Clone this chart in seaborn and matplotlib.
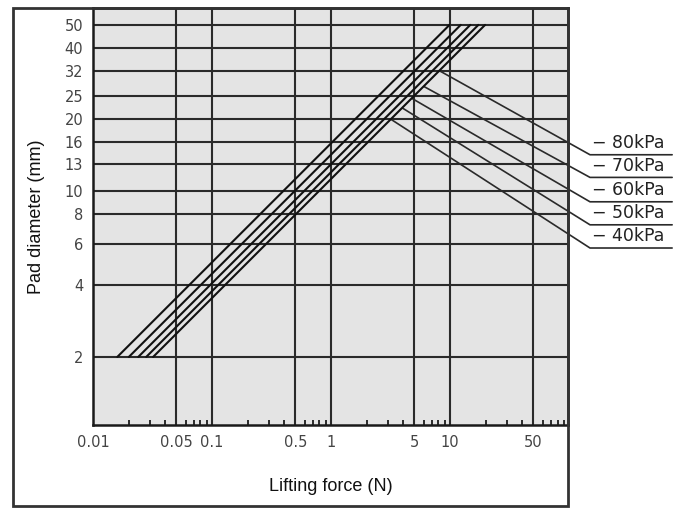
import numpy as np
import pandas as pd
import matplotlib
matplotlib.use("Agg")
import matplotlib.pyplot as plt
from matplotlib.patches import Rectangle
from matplotlib.ticker import FixedLocator, NullFormatter
import seaborn as sns

# ---- data ----
pressures = ["-80kPa", "-70kPa", "-60kPa", "-50kPa", "-40kPa"]
diam_ends = [2, 50]
force_at_d2 = [0.032, 0.028, 0.024, 0.020, 0.016]
force_at_d50 = [19.7, 17.3, 14.8, 12.3, 9.9]

leader_start_force = [8.2, 6.05, 4.8, 4.0, 3.2]
leader_start_diam = [32, 27.5, 24.5, 22.3, 20]
leader_end_diam = [14.2, 11.4, 9.0, 7.2, 5.75]
leader_end_force = 150
underline_end_force = 735

y_ticks = [2, 4, 6, 8, 10, 13, 16, 20, 25, 32, 40, 50]
x_ticks = [0.01, 0.05, 0.1, 0.5, 1, 5, 10, 50]
x_tick_labels = ["0.01", "0.05", "0.1", "0.5", "1", "5", "10", "50"]
x_minor = [0.02, 0.03, 0.04, 0.06, 0.07, 0.08, 0.09,
           0.2, 0.3, 0.4, 0.6, 0.7, 0.8, 0.9,
           2, 3, 4, 6, 7, 8, 9,
           20, 30, 40, 60, 70, 80, 90]

rows = []
for p, f0, f1 in zip(pressures, force_at_d2, force_at_d50):
    rows.append({"pressure": p, "force": f0, "diameter": diam_ends[0]})
    rows.append({"pressure": p, "force": f1, "diameter": diam_ends[1]})
df = pd.DataFrame(rows)

sns.set_style("white")
plt.rcParams["font.family"] = ["Liberation Sans", "DejaVu Sans"]

fig = plt.figure(figsize=(6.83, 5.08), dpi=100)
ax = fig.add_axes([93 / 683, 1 - 425 / 508, 475 / 683, 417 / 508])
ax.set_facecolor("#e4e4e4")

ax.set_xscale("log")
ax.set_yscale("log")
ax.set_xlim(0.01, 98)
ax.set_ylim(1.034, 58.9)

# grid
for yt in y_ticks:
    ax.axhline(yt, color="#2a2a2a", lw=1.5, zorder=1)
for xt in x_ticks[1:]:
    ax.axvline(xt, color="#2a2a2a", lw=1.5, zorder=1)

sns.lineplot(data=df, x="force", y="diameter", units="pressure", estimator=None,
             color="#111111", lw=1.5, ax=ax, legend=False, zorder=3)

for i, p in enumerate(pressures):
    ax.plot([leader_start_force[i], leader_end_force, underline_end_force],
            [leader_start_diam[i], leader_end_diam[i], leader_end_diam[i]],
            color="#2a2a2a", lw=1.2, clip_on=False, zorder=2)
    ax.text(leader_end_force * 1.03, leader_end_diam[i] * 1.025,
            p.replace("-", "\u2212 "), fontsize=12.5, color="#222222",
            family="DejaVu Sans", ha="left", va="bottom", clip_on=False)

ax.yaxis.set_major_locator(FixedLocator(y_ticks))
ax.set_yticklabels([str(t) for t in y_ticks])
ax.yaxis.set_minor_locator(FixedLocator([]))
ax.yaxis.set_minor_formatter(NullFormatter())
ax.xaxis.set_major_locator(FixedLocator(x_ticks))
ax.set_xticklabels(x_tick_labels)
ax.xaxis.set_minor_locator(FixedLocator(x_minor))
ax.xaxis.set_minor_formatter(NullFormatter())

for lab in ax.get_xticklabels() + ax.get_yticklabels():
    lab.set_family("DejaVu Sans")

ax.tick_params(axis="y", which="major", left=True, length=0, pad=7, labelsize=10.5, labelcolor="#444444")
ax.tick_params(axis="x", which="major", bottom=True, length=0, pad=7, labelsize=10.5, labelcolor="#444444")
ax.tick_params(axis="x", which="minor", bottom=True, direction="in", length=3.5, width=1.4, color="#2a2a2a")

for s in ax.spines.values():
    s.set_color("#1a1a1a")
    s.set_linewidth(1.8)

ax.set_ylabel("Pad diameter (mm)", fontsize=13, color="#111111")
ax.yaxis.set_label_coords(-48 / 475, 0.5)
ax.set_xlabel("Lifting force (N)", fontsize=13, color="#111111")
ax.xaxis.set_label_coords(0.5, -(478 - 425) / 417)

fig.patches.append(Rectangle((13 / 683, 2 / 508), 555 / 683, 498 / 508,
                             transform=fig.transFigure, fill=False,
                             edgecolor="#333333", lw=2, zorder=0))

fig.savefig("out.png", dpi=100)
